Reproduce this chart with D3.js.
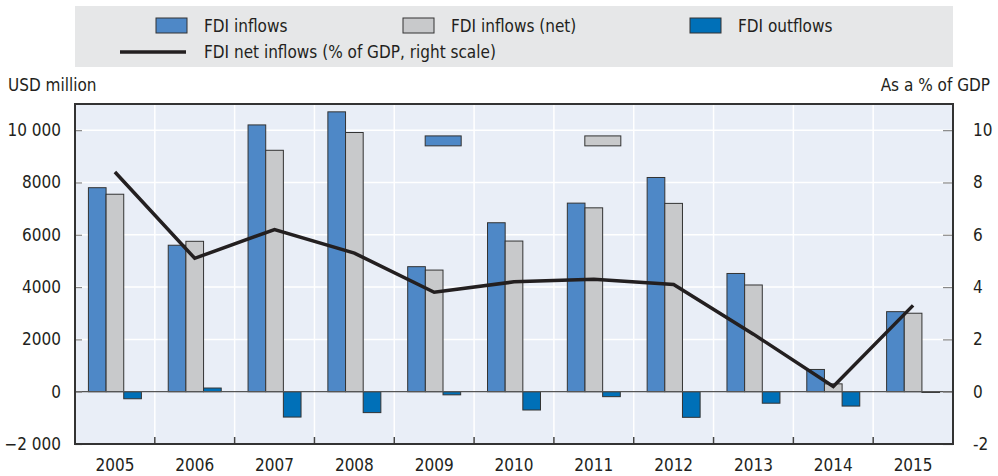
<!DOCTYPE html>
<html><head><meta charset="utf-8">
<script src="https://cdn.jsdelivr.net/npm/d3@7"></script>
<style>
body{margin:0;background:#fff;}
text{font-family:"Liberation Sans Narrow","Arial Narrow","DejaVu Sans Condensed",sans-serif;fill:#231f20;}
</style></head>
<body><svg id="chart" width="998" height="476"></svg>
<script>
const years = ["2005","2006","2007","2008","2009","2010","2011","2012","2013","2014","2015"];
const fdiInflows = [7800, 5600, 10200, 10700, 4780, 6460, 7210, 8190, 4520, 850, 3060];
const fdiInflowsNet = [7550, 5750, 9230, 9910, 4650, 5760, 7030, 7200, 4080, 300, 3000];
const fdiOutflows = [-270, 140, -970, -800, -120, -700, -190, -980, -440, -550, -30];
const fdiNetPctGDP = [8.4, 5.1, 6.2, 5.3, 3.8, 4.2, 4.3, 4.1, 2.2, 0.2, 3.3];
const leftTicks = [-2000, 0, 2000, 4000, 6000, 8000, 10000];
const rightTicks = [-2, 0, 2, 4, 6, 8, 10];
const seriesNames = ["FDI inflows", "FDI inflows (net)", "FDI outflows"];
const lineName = "FDI net inflows (% of GDP, right scale)";
const colors = ["#4e88c7", "#c8c9cb", "#0070b8"];

const svg = d3.select("#chart");
const m = {l:75, r:45, t:104, b:32};
const W = 998, H = 476;
const x0 = d3.scaleBand().domain(years).range([m.l, W - m.r]).padding(0);
const x1 = d3.scaleBand().domain(seriesNames).range([0, x0.bandwidth()]).paddingInner(0).paddingOuter(0.76);
const y = d3.scaleLinear().domain([-2000, 11000]).range([H - m.b, m.t]);
const y2 = d3.scaleLinear().domain([-2, 11]).range([H - m.b, m.t]);

// legend box
svg.append("rect").attr("x", m.l).attr("y", 6).attr("width", W - m.r - m.l).attr("height", 61).attr("fill", "#e6e7e8");
const legItems = [{x:156, name:seriesNames[0], c:colors[0]}, {x:403, name:seriesNames[1], c:colors[1]}, {x:690, name:seriesNames[2], c:colors[2]}];
legItems.forEach(d => {
  svg.append("rect").attr("x", d.x).attr("y", 18).attr("width", 31).attr("height", 15).attr("fill", d.c).attr("stroke", "#333").attr("stroke-width", 1);
  svg.append("text").attr("x", d.x + 48).attr("y", 32).attr("font-size", 17).text(d.name);
});
svg.append("line").attr("x1", 120).attr("x2", 186).attr("y1", 52).attr("y2", 52).attr("stroke", "#231f20").attr("stroke-width", 3.5);
svg.append("text").attr("x", 204).attr("y", 58).attr("font-size", 17).text(lineName);

// axis titles
svg.append("text").attr("x", 8).attr("y", 91).attr("font-size", 17).text("USD million");
svg.append("text").attr("x", 990).attr("y", 91).attr("font-size", 17).attr("text-anchor", "end").text("As a % of GDP");

// plot background
svg.append("rect").attr("x", m.l).attr("y", m.t).attr("width", W - m.r - m.l).attr("height", H - m.b - m.t).attr("fill", "#e9eef7");

// gridlines
svg.append("g").selectAll("line").data(leftTicks.filter(t => t !== 0 && t !== -2000)).join("line")
  .attr("x1", m.l).attr("x2", W - m.r).attr("y1", d => y(d)).attr("y2", d => y(d))
  .attr("stroke", "#fff").attr("stroke-width", 1.5);
svg.append("g").selectAll("line").data(years.slice(1)).join("line")
  .attr("x1", d => x0(d)).attr("x2", d => x0(d)).attr("y1", m.t).attr("y2", H - m.b)
  .attr("stroke", "#fff").attr("stroke-width", 1.5);

// bars
const fmt = d3.format(",");
const rows = years.map((yr, i) => ({year: yr, vals: [fdiInflows[i], fdiInflowsNet[i], fdiOutflows[i]]}));
const g = svg.append("g").selectAll("g").data(rows).join("g").attr("transform", d => `translate(${x0(d.year)},0)`);
g.selectAll("rect").data(d => d.vals.map((v, k) => ({v, k}))).join("rect")
  .attr("x", d => x1(seriesNames[d.k]))
  .attr("width", x1.bandwidth())
  .attr("y", d => y(Math.max(0, d.v)))
  .attr("height", d => Math.abs(y(d.v) - y(0)))
  .attr("fill", d => colors[d.k]).attr("stroke", "#333").attr("stroke-width", 1);

// stray legend keys inside plot (as in reference)
const stray = [{year:"2009", k:0}, {year:"2011", k:1}];
svg.append("g").selectAll("rect").data(stray).join("rect")
  .attr("x", d => x0(d.year) + x0.bandwidth()/2 - 9).attr("width", 36)
  .attr("y", y(9780)).attr("height", y(9400) - y(9780))
  .attr("fill", d => colors[d.k]).attr("stroke", "#333").attr("stroke-width", 1);

// zero line
svg.append("line").attr("x1", m.l).attr("x2", W - m.r).attr("y1", y(0)).attr("y2", y(0)).attr("stroke", "#555").attr("stroke-width", 1.2);

// line
const line = d3.line().x((d, i) => x0(years[i]) + x0.bandwidth()/2).y(d => y2(d));
svg.append("path").datum(fdiNetPctGDP).attr("d", line).attr("fill", "none").attr("stroke", "#231f20").attr("stroke-width", 3.5).attr("stroke-linejoin", "miter");

// axes
const axL = svg.append("g").attr("transform", `translate(${m.l},0)`)
  .call(d3.axisLeft(y).tickValues(leftTicks).tickSize(-7).tickPadding(14).tickFormat(d => Math.abs(d) >= 10000 || d === -2000 ? d3.format(",")(d).replace(",", "\u2009").replace(",", " ").replace("\u2009", " ") : String(d)));
axL.select(".domain").remove();
axL.selectAll(".tick line").attr("stroke", "#888").attr("stroke-width", 1.2);
axL.selectAll(".tick text").attr("font-size", 17).attr("fill", "#231f20").attr("font-family", null);

const axR = svg.append("g").attr("transform", `translate(${W - m.r},0)`)
  .call(d3.axisRight(y2).tickValues(rightTicks).tickSize(-10).tickPadding(20).tickFormat(d => String(d)));
axR.select(".domain").remove();
axR.selectAll(".tick line").attr("stroke", "#888").attr("stroke-width", 1.2);
axR.selectAll(".tick text").attr("font-size", 17).attr("fill", "#231f20").attr("font-family", null);

const axB = svg.append("g").attr("transform", `translate(0,${H - m.b})`)
  .call(d3.axisBottom(x0).tickSize(0).tickPadding(15));
axB.select(".domain").remove();
axB.selectAll(".tick text").attr("font-size", 17).attr("fill", "#231f20").attr("font-family", null);
svg.append("g").selectAll("line").data(years.slice(1)).join("line")
  .attr("x1", d => x0(d)).attr("x2", d => x0(d)).attr("y1", H - m.b - 7).attr("y2", H - m.b)
  .attr("stroke", "#444").attr("stroke-width", 1.5);

// frame
svg.append("rect").attr("x", m.l).attr("y", m.t).attr("width", W - m.r - m.l).attr("height", H - m.b - m.t)
  .attr("fill", "none").attr("stroke", "#333").attr("stroke-width", 2);
</script></body></html>
